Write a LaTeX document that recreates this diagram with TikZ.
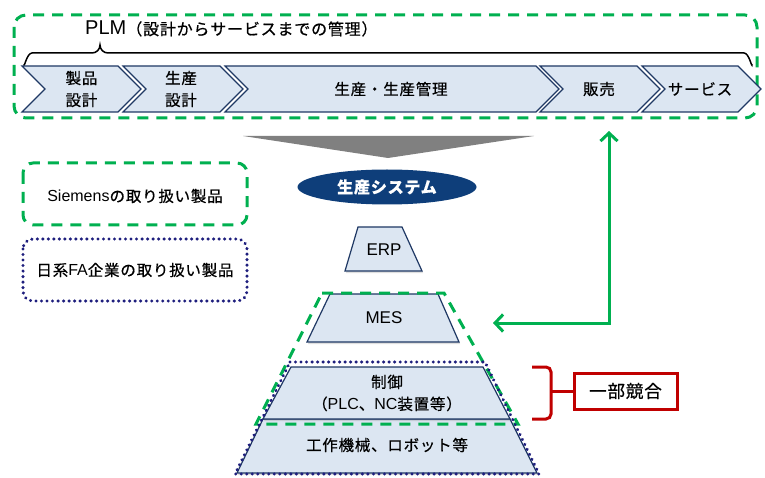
\documentclass[tikz,border=0pt]{standalone}
\usepackage{fontspec}
\setmainfont{Liberation Sans}
\newfontfamily\cjk[LetterSpace=5,FakeBold=0.6]{Noto Sans CJK JP}
\usetikzlibrary{arrows.meta,shapes.geometric,shadows}
\definecolor{plmgreen}{RGB}{0,176,80}
\definecolor{navyline}{RGB}{31,56,100}
\definecolor{lightfill}{RGB}{220,230,242}
\definecolor{dotnavy}{RGB}{30,30,125}
\definecolor{ellnavy}{RGB}{14,62,122}
\definecolor{redc}{RGB}{192,0,0}
\definecolor{graytri}{RGB}{128,128,128}
\tikzset{
  greendash/.style={draw=plmgreen, line width=3pt, dash pattern=on 11pt off 8pt},
  navydot/.style={draw=dotnavy, line width=3.4pt, line cap=round, dash pattern=on 0.01pt off 5.5pt},
  chev/.style={draw=navyline, fill=lightfill, line width=1.2pt, line join=miter},
  trap/.style={draw=navyline, fill=lightfill, line width=1.2pt, drop shadow={shadow xshift=1pt, shadow yshift=-2pt, opacity=0.25}},
  jp/.style={font=\cjk\fontsize{15.5}{22}\selectfont, align=center, inner sep=0pt},
  lat/.style={font=\fontsize{17}{20}\selectfont, inner sep=0pt},
  barb/.tip={Straight Barb[length=8pt,width=17pt]}
}
\newcommand\latn[1]{{\normalfont\fontsize{16}{19}\selectfont #1}}
\begin{document}
\begin{tikzpicture}[x=1pt,y=-1pt]
\useasboundingbox (0,0) rectangle (765,478);
% PLM area
\draw[greendash, rounded corners=12pt] (14,15) rectangle (757,118);
\node[anchor=base west, inner sep=0pt] (title) at (85,35) {\fontsize{20}{24}\selectfont PLM{\cjk\fontsize{16}{18}\selectfont （設計からサービスまでの管理）}};
\draw[line width=1.5pt] (24,64) to[out=-90,in=180] (32,53) -- (92,53) to[out=0,in=-90] (100,45) to[out=-90,in=180] (108,53) -- (744,53) to[out=0,in=-90] (752,64);
% chevrons
\foreach \L/\R in {22/118, 123/220, 225/536, 540/637, 642/738}{
  \draw[chev] (\L,66) -- (\R,66) -- ({\R+23},89) -- (\R,112) -- (\L,112) -- ({\L+23},89) -- cycle;
}
\node[jp] (c1) at (81.5,89) {製品\\設計};
\node[jp] (c2) at (181,89) {生産\\設計};
\node[jp] (c3) at (391,89) {生産・生産管理};
\node[jp] (c4) at (599,89) {販売};
\node[jp] (c5) at (700,89) {サービス};
% gray triangle
\fill[graytri] (243,136) -- (534,136) -- (388,158) -- cycle;
% ellipse
\node[ellipse, fill=ellnavy, minimum width=179pt, minimum height=35pt, inner sep=0pt, text=white, font=\cjk\bfseries\fontsize{16}{18}\selectfont] (sys) at (387,187) {生産システム};
% legend
\draw[greendash, rounded corners=10pt] (23,163) rectangle (247,225);
\node[jp] (leg1) at (135,196) {\latn{Siemens}の取り扱い製品};
\draw[navydot, rounded corners=10pt] (23,239) rectangle (247,301);
\node[jp] (leg2) at (135,270) {日系\latn{FA}企業の取り扱い製品};
% pyramid
\draw[trap] (358,227) -- (402,227) -- (422,271) -- (345,271) -- cycle;
\node[lat] (erp) at (384,250) {ERP};
\draw[trap] (330,294) -- (438,294) -- (459,342) -- (307,342) -- cycle;
\node[lat] (mes) at (384,318) {MES};
\draw[trap] (263,419) -- (510,419) -- (537,473) -- (237,473) -- cycle;
\draw[trap] (291,367) -- (483,367) -- (510,419) -- (263,419) -- cycle;
\node[jp] (ctl) at (387,393) {制御\\（\latn{PLC}、\latn{NC}装置等）};
\node[jp] (mach) at (387,445) {工作機械、ロボット等};
\draw[greendash] (322,293) -- (444,293) -- (518,424) -- (256,424) -- cycle;
\draw[navydot] (290,362) -- (485,362) -- (539,474) -- (235,474) -- cycle;
% green arrow
\coordinate (aup) at (609,131);
\coordinate (acorner) at (609,323);
\coordinate (aleft) at (493,323);
\draw[plmgreen, line width=3pt, {barb}-{barb}] (aup) -- (acorner) -- (aleft);
% red bracket and box
\node[draw=redc, line width=3pt, minimum width=103pt, minimum height=36pt, font=\cjk\fontsize{17.5}{20}\selectfont] (comp) at (625.5,391) {一部競合};
\coordinate (bt) at (532,367);
\coordinate (bb) at (532,419);
\coordinate (bm) at (comp.west);
\draw[redc, line width=3pt, rounded corners=5pt] (bt) -- (551,367) -- (551,419) -- (bb);
\draw[redc, line width=3pt] (551,391) -- (bm);
\end{tikzpicture}
\end{document}
